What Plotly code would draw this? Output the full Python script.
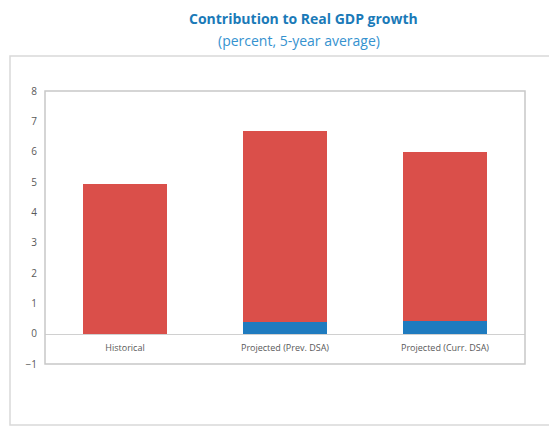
import plotly.graph_objects as go

categories = ["Historical", "Projected (Prev. DSA)", "Projected (Curr. DSA)"]
blue_values = [0.0, 0.39, 0.41]
red_values = [4.92, 6.30, 5.57]
y_ticks = [-1, 0, 1, 2, 3, 4, 5, 6, 7, 8]

W, H = 549, 427
ml, mr, mt, mb = 45, 24, 91, 63
pw, ph = W - ml - mr, H - mt - mb

def px_to_paper_x(px):
    return (px - ml) / pw

def px_to_paper_y(py):
    return (H - mb - py) / ph

fig = go.Figure()
fig.add_trace(go.Bar(x=categories, y=blue_values, marker_color="#1f7bbf",
                     marker_line_width=0, width=0.53, name="blue"))
fig.add_trace(go.Bar(x=categories, y=red_values, marker_color="#da4f4a",
                     marker_line_width=0, width=0.53, name="red"))

fig.update_layout(
    width=W, height=H,
    margin=dict(l=ml, r=mr, t=mt, b=mb),
    barmode="stack",
    showlegend=False,
    plot_bgcolor="white",
    paper_bgcolor="white",
    font=dict(family="Open Sans", color="#595959"),
    yaxis=dict(range=[-1, 8], tickvals=y_ticks, showgrid=False, zeroline=False,
               showline=False, tickfont=dict(size=10, color="#595959"),
               ticks="", ticklabelstandoff=7),
    xaxis=dict(anchor="free", position=1 / 9, showline=True, linecolor="#d0d0d0",
               linewidth=1, ticks="", showgrid=False, ticklabelstandoff=6,
               tickfont=dict(size=9, color="#595959")),
    shapes=[
        dict(type="rect", xref="paper", yref="paper", x0=0, x1=1, y0=0, y1=1,
             line=dict(color="#c8c8c8", width=1.5), layer="above"),
        dict(type="rect", xref="paper", yref="paper",
             x0=px_to_paper_x(10), x1=px_to_paper_x(560),
             y0=px_to_paper_y(425), y1=px_to_paper_y(56),
             line=dict(color="#d9d9d9", width=1.5)),
    ],
    annotations=[
        dict(text="<b>Contribution to Real GDP growth</b>", xref="paper", yref="paper",
             x=px_to_paper_x(303), y=px_to_paper_y(18), showarrow=False,
             xanchor="center", yanchor="middle",
             font=dict(family="Open Sans", size=14, color="#1a7ab8")),
        dict(text="(percent, 5-year average)", xref="paper", yref="paper",
             x=px_to_paper_x(299), y=px_to_paper_y(40), showarrow=False,
             xanchor="center", yanchor="middle",
             font=dict(family="Open Sans", size=14, color="#3592cf")),
    ],
)

fig.write_html("out.html")
